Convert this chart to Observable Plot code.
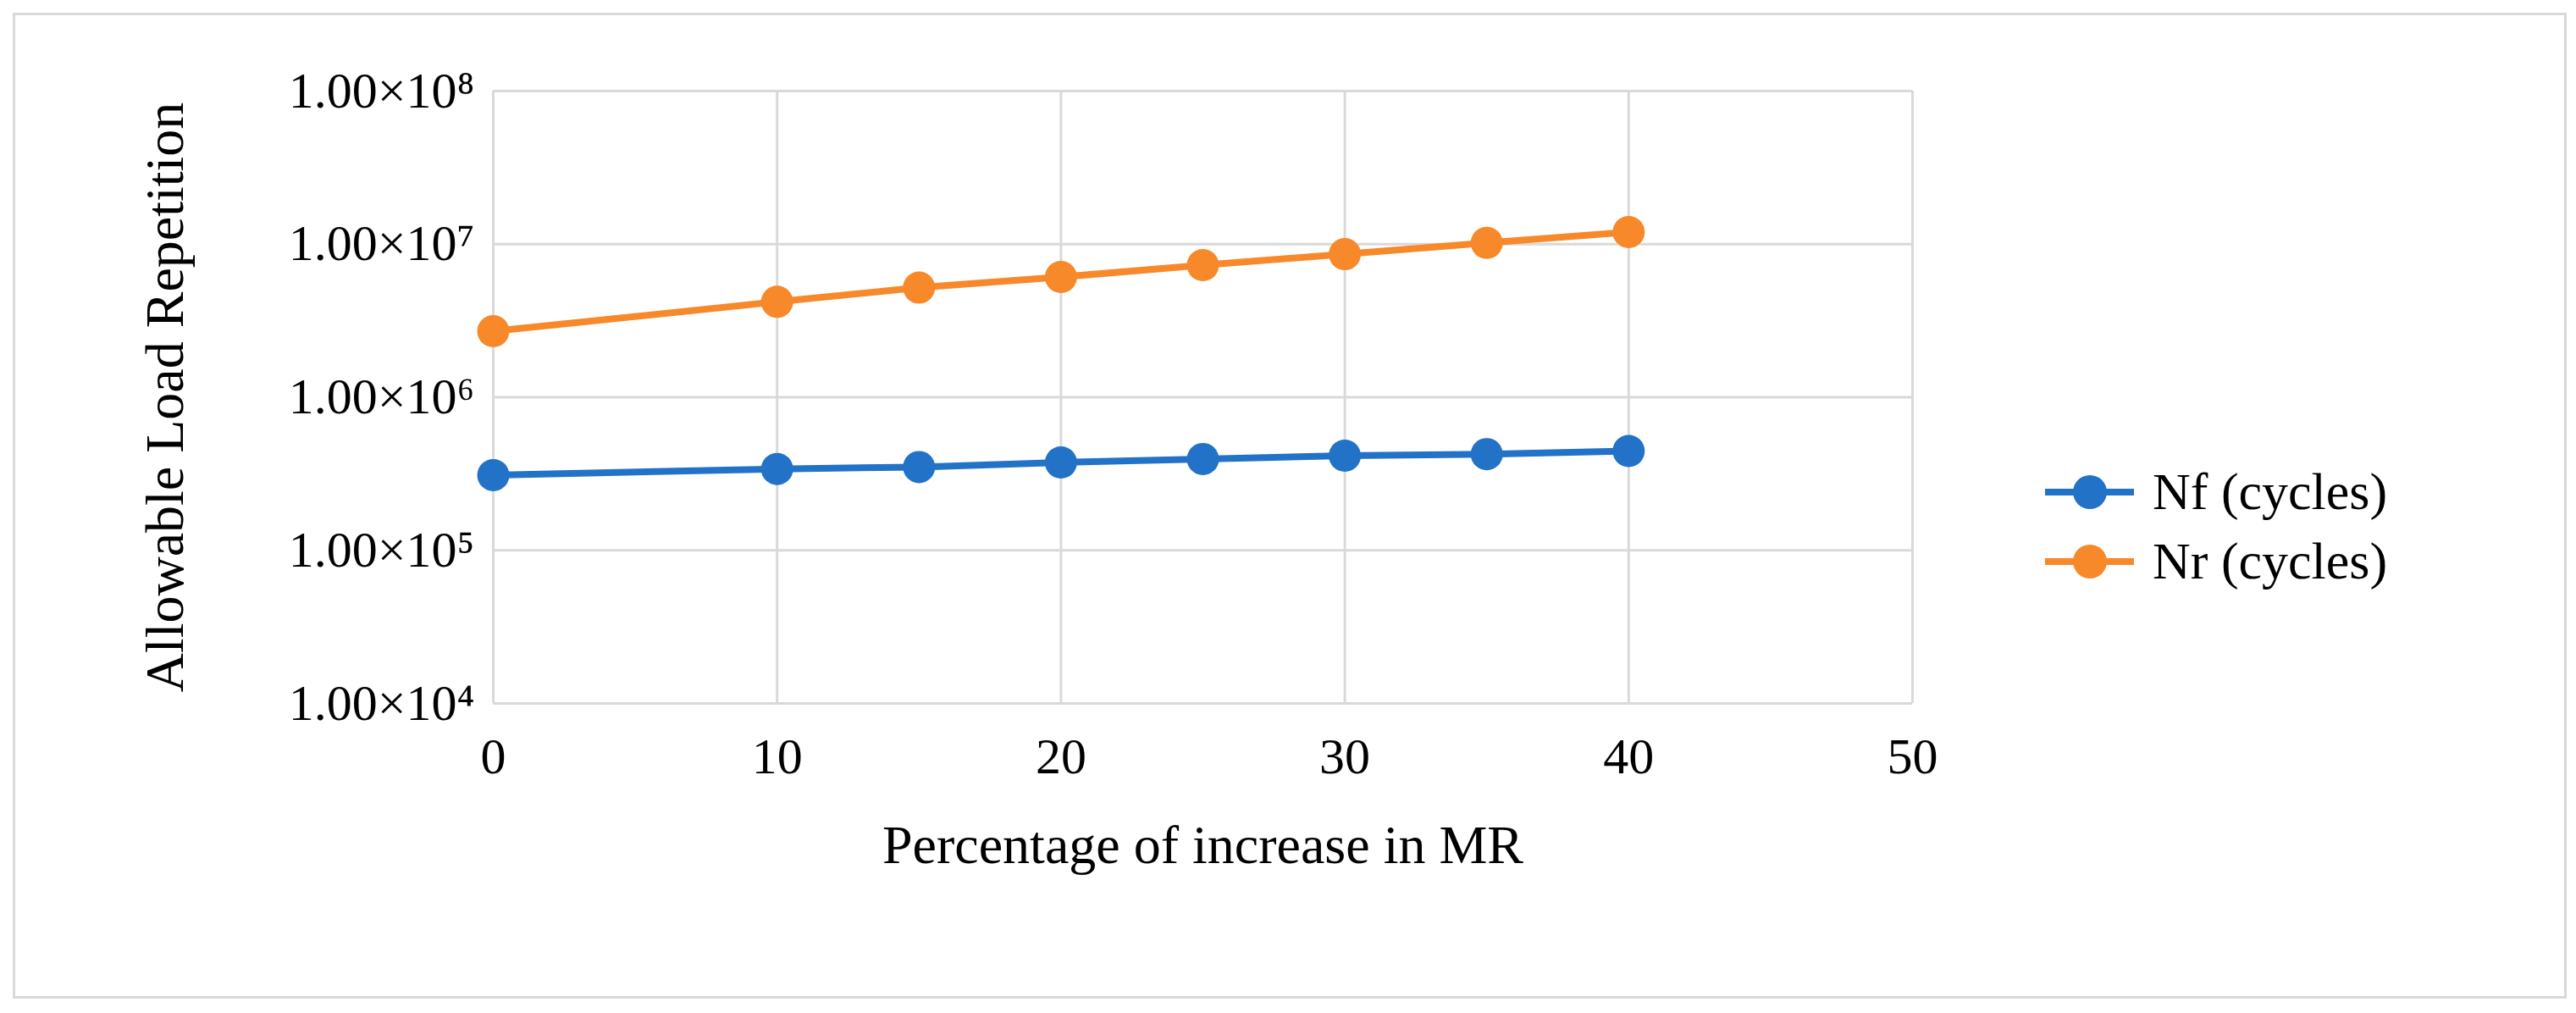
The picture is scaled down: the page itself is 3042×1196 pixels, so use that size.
<!DOCTYPE html>
<html><head><meta charset="utf-8">
<script src="https://cdn.jsdelivr.net/npm/d3@7"></script>
<script src="https://cdn.jsdelivr.net/npm/@observablehq/plot@0.6"></script>
<style>
body{margin:0;background:#fff;font-family:"Liberation Serif","Times New Roman",serif;}
#frame{position:absolute;left:15px;top:15px;width:3010px;height:1158px;border:3px solid #d9d9d9;}
#chart{position:absolute;left:0;top:0;}
.leg{position:absolute;left:2415px;display:flex;align-items:center;font-size:62px;color:#000;}
.leg .ln{position:relative;width:105px;height:8px;margin-right:22px;}
.leg .dt{position:absolute;left:33px;top:-16px;width:40px;height:40px;border-radius:50%;}
</style></head><body>
<div id="frame"></div>
<div id="chart"></div>
<div class="leg" style="top:545px"><div class="ln" style="background:#2272c8"><div class="dt" style="background:#2272c8"></div></div>Nf (cycles)</div>
<div class="leg" style="top:627px"><div class="ln" style="background:#f7892b"><div class="dt" style="background:#f7892b"></div></div>Nr (cycles)</div>
<script>
const pct = [0,10,15,20,25,30,35,40];
const nf = [3.1e5,3.4e5,3.5e5,3.75e5,3.95e5,4.15e5,4.25e5,4.45e5];
const nr = [2.7e6,4.2e6,5.2e6,6.1e6,7.3e6,8.6e6,1.02e7,1.2e7];
const xTicks = [0,10,20,30,40,50];
const yTicks = [1e4,1e5,1e6,1e7,1e8];
const sup = {"0":"⁰","1":"¹","2":"²","3":"³","4":"⁴","5":"⁵","6":"⁶","7":"⁷","8":"⁸","9":"⁹"};
const fmt = v => "1.00×10" + String(Math.round(Math.log10(v))).split("").map(c=>sup[c]).join("");
const dNf = pct.map((p,i)=>({p, v:nf[i]}));
const dNr = pct.map((p,i)=>({p, v:nr[i]}));
const chart = Plot.plot({
  width:3042, height:1196,
  marginLeft:582, marginRight:784, marginTop:107, marginBottom:366,
  style:{fontFamily:"'Liberation Serif','Times New Roman',serif", fontSize:"60px", color:"#000", background:"transparent"},
  x:{domain:[0,50], ticks:xTicks, label:null},
  y:{type:"log", domain:[1e4,1e8], ticks:yTicks, label:null},
  marks:[
    Plot.gridX(xTicks,{stroke:"#d9d9d9", strokeOpacity:1, strokeWidth:3}),
    Plot.gridY(yTicks,{stroke:"#d9d9d9", strokeOpacity:1, strokeWidth:3}),
    Plot.axisX(xTicks,{tickSize:0, tickPadding:40, fontSize:60, label:null}),
    Plot.axisY(yTicks,{tickSize:0, tickPadding:22, tickFormat:fmt, fontSize:60, label:null}),
    Plot.text(["Percentage of increase in MR"],{frameAnchor:"bottom", dy:188, fontSize:64}),
    Plot.text(["Allowable Load Repetition"],{frameAnchor:"left", textAnchor:"middle", dx:-387, rotate:-90, fontSize:64}),
    Plot.line(dNf,{x:"p", y:"v", stroke:"#2272c8", strokeWidth:8}),
    Plot.dot(dNf,{x:"p", y:"v", fill:"#2272c8", r:19}),
    Plot.line(dNr,{x:"p", y:"v", stroke:"#f7892b", strokeWidth:8}),
    Plot.dot(dNr,{x:"p", y:"v", fill:"#f7892b", r:19})
  ]
});
document.getElementById("chart").appendChild(chart);
</script>
</body></html>
